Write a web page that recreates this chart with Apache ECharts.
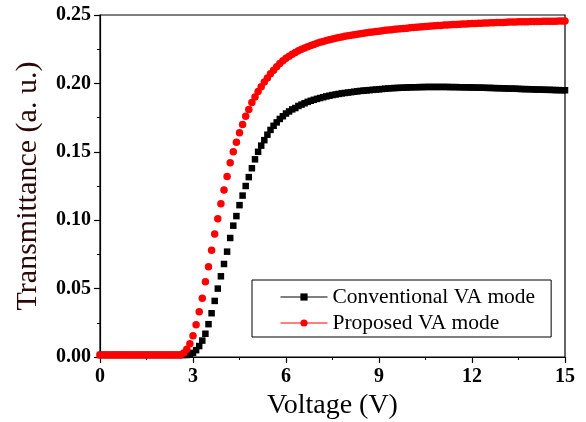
<!DOCTYPE html>
<html>
<head>
<meta charset="utf-8">
<script src="https://cdn.jsdelivr.net/npm/echarts@6/dist/echarts.min.js"></script>
<style>
  html, body { margin: 0; padding: 0; background: #fff; }
  #chart { width: 586px; height: 422px; }
</style>
</head>
<body>
<div id="chart"></div>
<script>
// applied voltage (V), one sample every 0.1 V
const voltage = [
  0, 0.1, 0.2, 0.3, 0.4, 0.5, 0.6, 0.7, 0.8, 0.9,
  1, 1.1, 1.2, 1.3, 1.4, 1.5, 1.6, 1.7, 1.8, 1.9,
  2, 2.1, 2.2, 2.3, 2.4, 2.5, 2.6, 2.7, 2.8, 2.9,
  3, 3.1, 3.2, 3.3, 3.4, 3.5, 3.6, 3.7, 3.8, 3.9,
  4, 4.1, 4.2, 4.3, 4.4, 4.5, 4.6, 4.7, 4.8, 4.9,
  5, 5.1, 5.2, 5.3, 5.4, 5.5, 5.6, 5.7, 5.8, 5.9,
  6, 6.1, 6.2, 6.3, 6.4, 6.5, 6.6, 6.7, 6.8, 6.9,
  7, 7.1, 7.2, 7.3, 7.4, 7.5, 7.6, 7.7, 7.8, 7.9,
  8, 8.1, 8.2, 8.3, 8.4, 8.5, 8.6, 8.7, 8.8, 8.9,
  9, 9.1, 9.2, 9.3, 9.4, 9.5, 9.6, 9.7, 9.8, 9.9,
  10, 10.1, 10.2, 10.3, 10.4, 10.5, 10.6, 10.7, 10.8, 10.9,
  11, 11.1, 11.2, 11.3, 11.4, 11.5, 11.6, 11.7, 11.8, 11.9,
  12, 12.1, 12.2, 12.3, 12.4, 12.5, 12.6, 12.7, 12.8, 12.9,
  13, 13.1, 13.2, 13.3, 13.4, 13.5, 13.6, 13.7, 13.8, 13.9,
  14, 14.1, 14.2, 14.3, 14.4, 14.5, 14.6, 14.7, 14.8, 14.9,
  15
];

// conventional VA mode transmittance
const conventional = [
  0.0015, 0.0015, 0.0015, 0.0015, 0.0015, 0.0015, 0.0015, 0.0015, 0.0015, 0.0015,
  0.0015, 0.0015, 0.0015, 0.0015, 0.0015, 0.0015, 0.0015, 0.0015, 0.0015, 0.0015,
  0.0015, 0.0015, 0.0015, 0.0015, 0.0015, 0.0015, 0.0015, 0.0015, 0.0015, 0.002,
  0.003, 0.005, 0.008, 0.012, 0.017, 0.024, 0.032, 0.041, 0.050, 0.059,
  0.068, 0.077, 0.087, 0.096, 0.103, 0.111, 0.118, 0.125, 0.1315, 0.138,
  0.1445, 0.150, 0.1545, 0.1585, 0.1625, 0.166, 0.169, 0.1715, 0.174, 0.176,
  0.178, 0.1795, 0.181, 0.182, 0.1835, 0.1845, 0.1855, 0.1865, 0.1873, 0.188,
  0.1887, 0.1893, 0.1899, 0.1905, 0.191, 0.1915, 0.1919, 0.1923, 0.1927, 0.193,
  0.1933, 0.1936, 0.1939, 0.1942, 0.1945, 0.1947, 0.1949, 0.1951, 0.1953, 0.1955,
  0.1957, 0.1959, 0.1961, 0.1963, 0.1965, 0.1966, 0.1967, 0.1968, 0.1969, 0.197,
  0.1971, 0.1972, 0.1972, 0.1973, 0.1973, 0.1974, 0.1974, 0.1974, 0.1974, 0.1974,
  0.1974, 0.1974, 0.1974, 0.1973, 0.1973, 0.1973, 0.1972, 0.1972, 0.1971, 0.1971,
  0.197, 0.197, 0.1969, 0.1969, 0.1968, 0.1967, 0.1967, 0.1966, 0.1965, 0.1965,
  0.1964, 0.1963, 0.1962, 0.1962, 0.1961, 0.196, 0.1959, 0.1958, 0.1958, 0.1957,
  0.1956, 0.1955, 0.1955, 0.1954, 0.1953, 0.1953, 0.1952, 0.1951, 0.1951, 0.195,
  0.195
];

// proposed VA mode transmittance
const proposed = [
  0.0015, 0.0015, 0.0015, 0.0015, 0.0015, 0.0015, 0.0015, 0.0015, 0.0015, 0.0015,
  0.0015, 0.0015, 0.0015, 0.0015, 0.0015, 0.0015, 0.0015, 0.0015, 0.0015, 0.0015,
  0.0015, 0.0015, 0.0015, 0.0015, 0.0015, 0.0015, 0.0015, 0.003, 0.0056, 0.0097,
  0.0156, 0.0236, 0.033, 0.043, 0.055, 0.066, 0.078, 0.090, 0.101, 0.112,
  0.122, 0.132, 0.142, 0.150, 0.157, 0.164, 0.170, 0.176, 0.181, 0.186,
  0.190, 0.194, 0.1975, 0.201, 0.204, 0.207, 0.2097, 0.2122, 0.2145, 0.2165,
  0.2183, 0.2199, 0.2213, 0.2226, 0.2238, 0.2249, 0.2259, 0.2268, 0.2277, 0.2285,
  0.2293, 0.23, 0.2307, 0.2313, 0.2319, 0.2325, 0.233, 0.2335, 0.234, 0.2344,
  0.2348, 0.2352, 0.2356, 0.236, 0.2363, 0.2367, 0.237, 0.2373, 0.2376, 0.2379,
  0.2382, 0.2385, 0.2388, 0.239, 0.2393, 0.2395, 0.2397, 0.24, 0.2402, 0.2404,
  0.2406, 0.2408, 0.241, 0.2412, 0.2414, 0.2416, 0.2418, 0.242, 0.2421, 0.2423,
  0.2424, 0.2426, 0.2427, 0.2429, 0.243, 0.2431, 0.2433, 0.2434, 0.2435, 0.2436,
  0.2437, 0.2438, 0.2439, 0.244, 0.2441, 0.2442, 0.2443, 0.2444, 0.2445, 0.2446,
  0.2446, 0.2447, 0.2448, 0.2448, 0.2449, 0.245, 0.245, 0.2451, 0.2451, 0.2452,
  0.2452, 0.2453, 0.2453, 0.2454, 0.2454, 0.2455, 0.2455, 0.2455, 0.2456, 0.2456,
  0.2456
];

const seriesNames = ['Conventional VA mode', 'Proposed VA mode'];

const serif = '"Liberation Serif", "Times New Roman", serif';

const chart = echarts.init(document.getElementById('chart'), null, { renderer: 'canvas' });

const option = {
  animation: false,
  backgroundColor: '#fff',
  grid: {
    left: 100,
    right: 21,
    top: 15,
    bottom: 65,
    outerBoundsMode: 'none',
    containLabel: false,
    show: true,
    borderColor: '#000',
    borderWidth: 1.2
  },
  legend: {
    orient: 'vertical',
    left: 252,
    top: 280,
    data: seriesNames,
    itemWidth: 47,
    itemHeight: 9,
    itemGap: 4,
    padding: [6, 16, 3, 28],
    borderColor: '#000',
    borderWidth: 1,
    lineStyle: { width: 1, opacity: 1 },
    textStyle: { fontFamily: serif, fontSize: 21.5, color: '#000' }
  },
  xAxis: {
    type: 'value',
    min: 0,
    max: 15,
    interval: 3,
    name: 'Voltage (V)',
    nameLocation: 'middle',
    nameGap: 29,
    nameTextStyle: { fontFamily: serif, fontSize: 28, color: '#000' },
    axisLine: { lineStyle: { color: '#000', width: 1.2 } },
    axisTick: { length: 6, lineStyle: { color: '#000', width: 1.2 } },
    minorTick: { show: true, splitNumber: 2, length: 3, lineStyle: { color: '#000', width: 1 } },
    splitLine: { show: false },
    axisLabel: { fontFamily: serif, fontSize: 20, fontWeight: 'bold', color: '#000', margin: 10 }
  },
  yAxis: {
    type: 'value',
    min: 0,
    max: 0.25,
    interval: 0.05,
    name: 'Transmittance (a. u.)',
    nameLocation: 'middle',
    nameGap: 57,
    nameTextStyle: { fontFamily: serif, fontSize: 30, color: '#2a0808' },
    axisLine: { lineStyle: { color: '#000', width: 1.2 } },
    axisTick: { length: 6, lineStyle: { color: '#000', width: 1.2 } },
    minorTick: { show: true, splitNumber: 2, length: 3, lineStyle: { color: '#000', width: 1 } },
    splitLine: { show: false },
    axisLabel: {
      fontFamily: serif, fontSize: 20, fontWeight: 'bold', color: '#000', margin: 9,
      formatter: v => v.toFixed(2)
    }
  },
  series: [
    {
      name: seriesNames[0],
      type: 'line',
      data: voltage.map((v, i) => [v, conventional[i]]),
      symbol: 'rect',
      symbolSize: 6.5,
      showAllSymbol: true,
      itemStyle: { color: '#000' },
      lineStyle: { color: '#000', width: 1, opacity: 0 },
      z: 2
    },
    {
      name: seriesNames[1],
      type: 'line',
      data: voltage.map((v, i) => [v, proposed[i]]),
      symbol: 'circle',
      symbolSize: 7.5,
      showAllSymbol: true,
      itemStyle: { color: '#ff0000' },
      lineStyle: { color: '#ff0000', width: 1, opacity: 0 },
      z: 3
    }
  ]
};

chart.setOption(option);
</script>
</body>
</html>
